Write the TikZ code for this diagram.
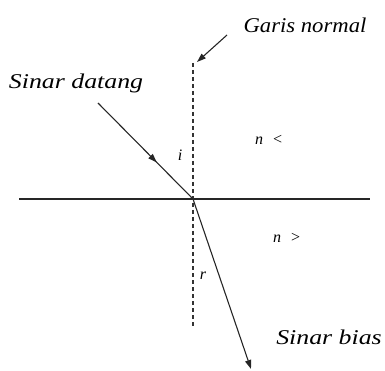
\documentclass[tikz,border=0pt]{standalone}
\usepackage{fontspec}
\setmainfont{Liberation Serif}
\usetikzlibrary{arrows.meta,decorations.markings}
\begin{document}
\begin{tikzpicture}[x=1pt,y=-1pt,
  lbl/.style={font=\fontsize{21}{23}\selectfont\itshape, inner sep=0pt},
  wide/.style={lbl, xscale=1.23},
  small/.style={font=\fontsize{16}{17}\selectfont\itshape, inner sep=0pt},
  ray/.style={line width=1.1pt, draw=black!85},
  tip/.style={-{Triangle[length=9pt,width=6pt]}},
  midtip/.style={decoration={markings, mark=at position 0.62 with {\arrow{Triangle[length=9pt,width=6pt]}}}, postaction={decorate}},
  normal/.style={line width=1.1pt, dash pattern=on 4pt off 3pt, draw=black!80}]
\useasboundingbox (0,0) rectangle (385,371);
% surface
\coordinate (sl) at (19,199);
\coordinate (sr) at (370,199);
\draw[line width=1.8pt, black!85] (sl) -- (sr);
% normal
\coordinate (nt) at (193,63);
\coordinate (nb) at (193,328);
\draw[normal] (nt) -- (nb);
% incident ray
\coordinate (a) at (98,103);
\coordinate (o) at (193,199);
\draw[ray, midtip] (a) -- (o);
% refracted ray
\coordinate (b) at (251,369);
\draw[ray, tip] (o) -- (b);
% labels
\node[lbl, xscale=1.08] (gn) at (305,25) {Garis normal};
\coordinate (ga) at (227,35);
\coordinate (gb) at (197,62);
\draw[ray, tip] (ga) -- (gb);
\node[wide] (sd) at (76,83) {Sinar datang};
\node[wide] (sb) at (329,337) {Sinar bias};
\node[small] (ii) at (180,155) {i};
\node[small] (rr) at (203,276) {r};
\node[small] (n1) at (269,140) {n\hspace{9pt}<};
\node[small] (n2) at (287,238) {n\hspace{9pt}>};
\end{tikzpicture}
\end{document}
